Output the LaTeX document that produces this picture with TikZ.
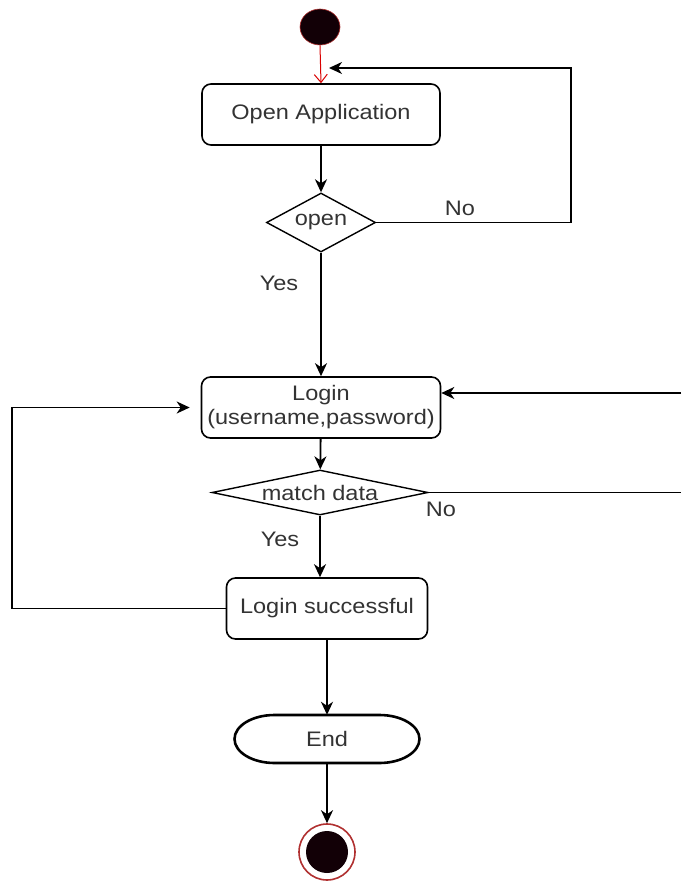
\documentclass[tikz,border=0pt]{standalone}
\usepackage{fontspec}
\setmainfont{Liberation Sans}
\usetikzlibrary{shapes.geometric,arrows.meta}
\definecolor{txtgray}{HTML}{333333}
\definecolor{dotfill}{HTML}{120006}
\definecolor{dotring}{HTML}{B03030}
% labels are set slightly wider than the font's natural width
\newcommand{\wtxt}[1]{\scalebox{1.12}[1]{#1}}
\begin{document}
\begin{tikzpicture}[x=1pt,y=-1pt,
  every node/.style={font=\fontsize{21}{24}\selectfont, text=txtgray},
  action/.style={draw=black, line width=1.6pt, rounded corners=9pt, fill=white,
    inner sep=0pt, align=center},
  decision/.style={draw=black, diamond, line width=1.4pt, fill=white, inner sep=0pt},
  terminal/.style={inner sep=0pt},
  lbl/.style={inner sep=0pt},
  flow/.style={draw=black, line width=1.8pt, -{Stealth[length=13pt,width=12pt,inset=4pt]}},
  plain/.style={draw=black, line width=1.5pt},
  startarrow/.style={draw=red!85!black, line width=1pt, -{Straight Barb[length=8pt,width=13pt]}}
]
\useasboundingbox (0,0) rectangle (681,885);

% initial node
\node[ellipse, fill=dotfill, draw=dotring, line width=0.6pt,
      minimum width=40pt, minimum height=36pt, inner sep=0pt] (start) at (320,27) {};

% terminator outline: straight top and bottom with elliptical ends
\draw[line width=2.6pt, fill=white]
  (274.5,715) -- (379.5,715)
  .. controls (401.6,715) and (419.5,725.75) .. (419.5,739)
  .. controls (419.5,752.25) and (401.6,763) .. (379.5,763)
  -- (274.5,763)
  .. controls (252.4,763) and (234.5,752.25) .. (234.5,739)
  .. controls (234.5,725.75) and (252.4,715) .. (274.5,715) -- cycle;

% activities and decisions
\node[action, minimum width=238pt, minimum height=61pt] (open) at (321,114.5) {\wtxt{Open Application}};
\node[decision, minimum width=109pt, minimum height=59pt, aspect=1.8] (dec1) at (321,222.5) {\wtxt{open}};
\node[action, minimum width=239pt, minimum height=61pt] (login) at (321,407.5)
  {\wtxt{Login}\\\wtxt{(username,password)}};
\node[decision, minimum width=216pt, minimum height=45pt, aspect=4.8] (dec2) at (320,492.5) {\wtxt{match data}};
\node[action, minimum width=201pt, minimum height=61pt] (succ) at (327,608.5) {\wtxt{Login successful}};
\node[terminal, minimum width=185pt, minimum height=48pt] (endn) at (327,739) {\wtxt{End}};

% final node
\node[circle, draw=dotring, line width=1.6pt, fill=white, minimum size=56pt, inner sep=0pt] (fin) at (327,852) {};
\node[circle, fill=dotfill, minimum size=42pt, inner sep=0pt] (fincore) at (fin.center) {};

% free ends of the loops
\coordinate (loopin) at (329,68);
\coordinate (rin) at (681,393);
\coordinate (rout) at (681,492.5);

% connectors
\draw[startarrow] (start.south) -- (open.north);
\draw[flow] (open) -- (dec1);
\draw[flow] (dec1.east) -- ++(195,0) |- (loopin);
\draw[flow] (dec1) -- (login);
\draw[flow] (rin) -- (rin -| login.east);
\draw[flow] (login) -- (dec2);
\draw[plain] (dec2.east) -- (rout);
\draw[flow] (dec2.south) -- (dec2.south |- succ.north);
\draw[flow, shorten >=11pt] (succ.west) -- ++(-214,0) |- (login.west);
\draw[flow] (succ) -- (endn);
\draw[flow] (endn) -- (fin);

% branch labels
\node[lbl] (no1) at (460,208) {\wtxt{No}};
\node[lbl] (yes1) at (279,283) {\wtxt{Yes}};
\node[lbl] (no2) at (441,509) {\wtxt{No}};
\node[lbl] (yes2) at (280,539) {\wtxt{Yes}};
\end{tikzpicture}
\end{document}
